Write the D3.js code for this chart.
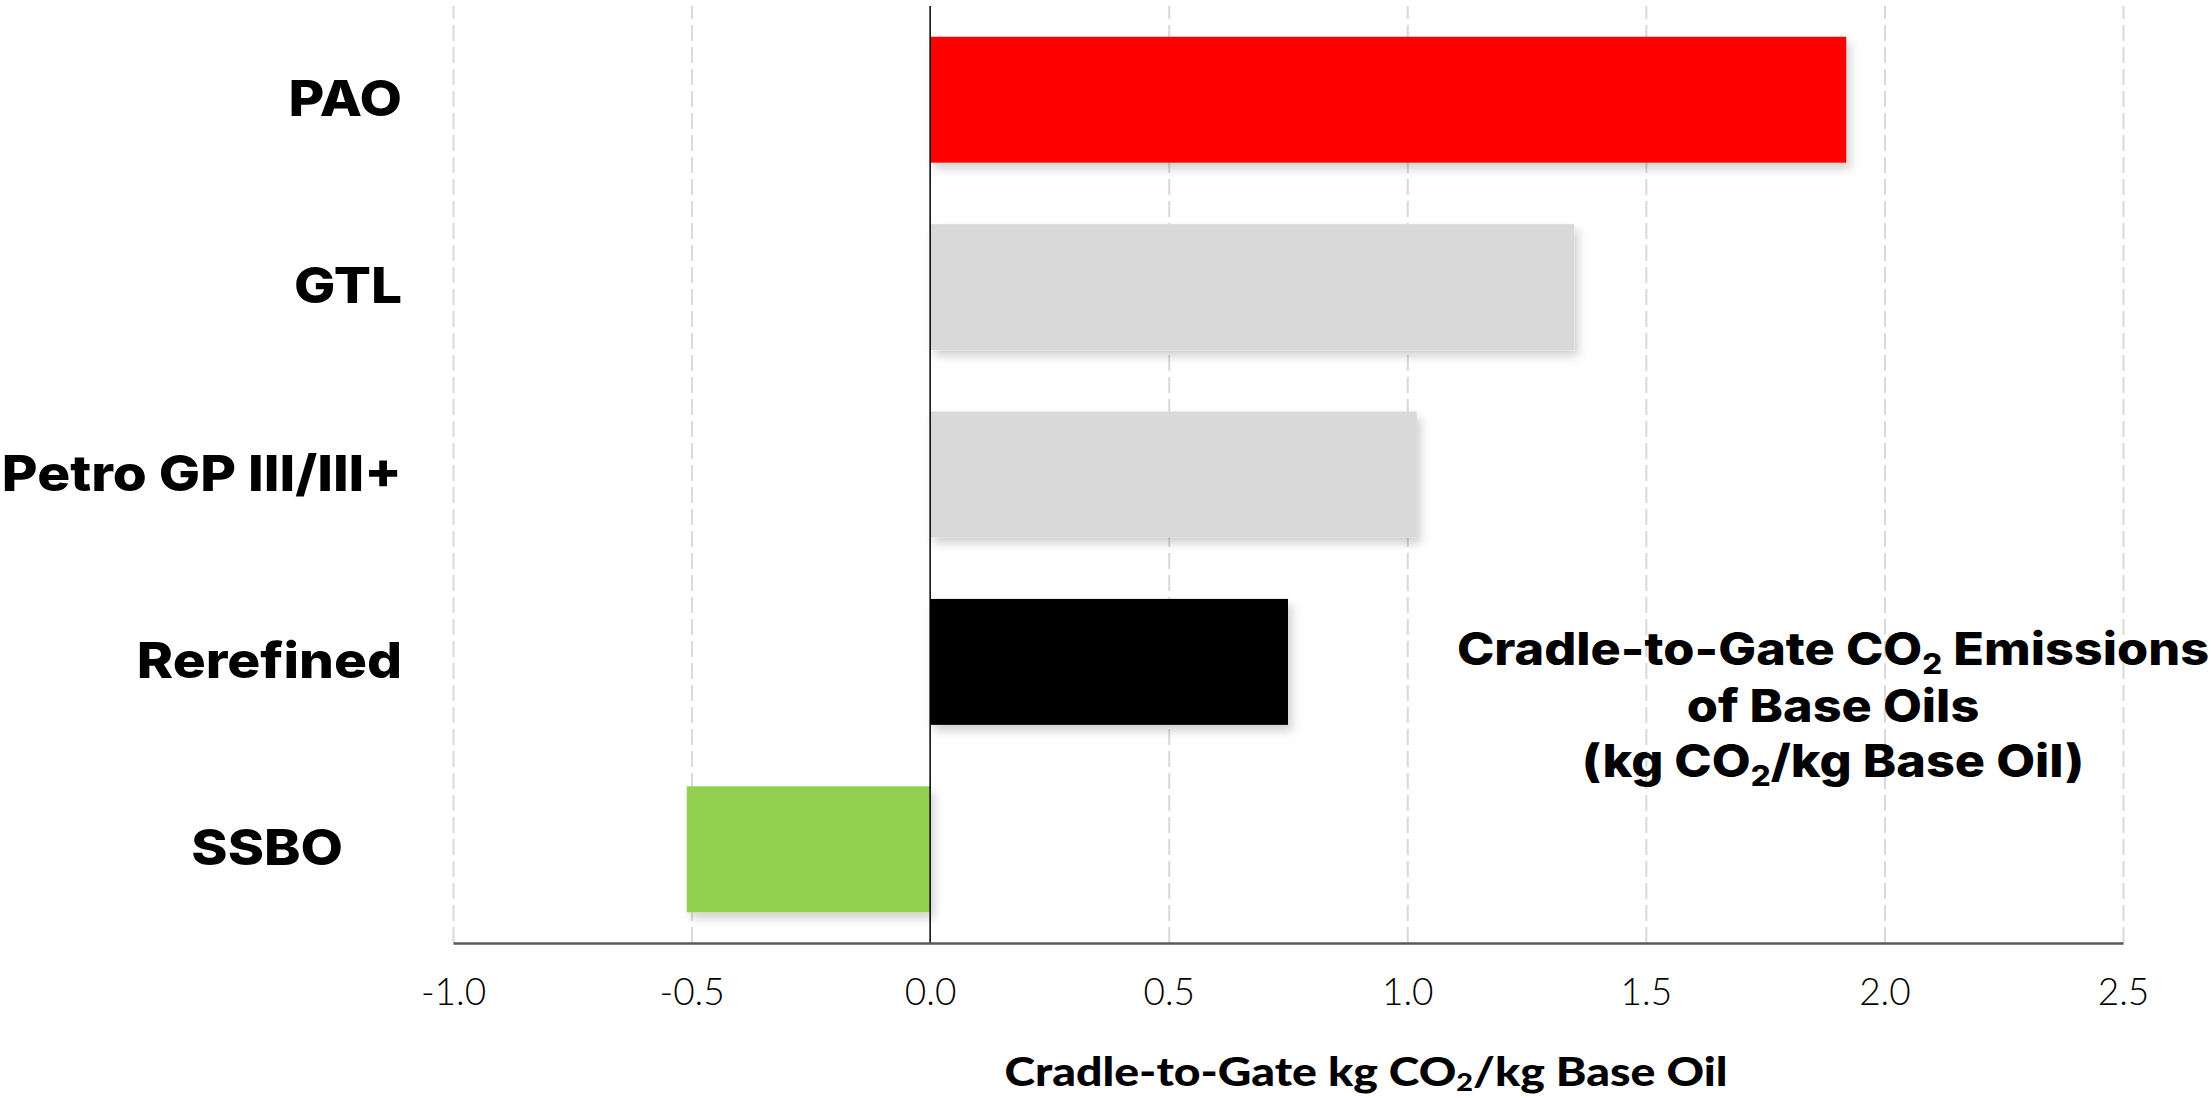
<!DOCTYPE html>
<html>
<head>
<meta charset="utf-8">
<script src="https://cdn.jsdelivr.net/npm/d3@7/dist/d3.min.js"></script>
<style>
  html, body { margin: 0; padding: 0; background: #ffffff; }
  svg { display: block; }
</style>
</head>
<body>
<svg id="chart" width="2211" height="1098"></svg>
<script>
// ---- data ----
const categories = ["PAO", "GTL", "Petro GP III/III+", "Rerefined", "SSBO"];
const values = [1.92, 1.35, 1.02, 0.75, -0.51];
const barColors = ["#FF0000", "#D9D9D9", "#D9D9D9", "#000000", "#92D050"];
const tickValues = [-1.0, -0.5, 0.0, 0.5, 1.0, 1.5, 2.0, 2.5];
const xAxisTitle = ["Cradle-to-Gate kg CO", "2", "/kg Base Oil"];
const annotationLines = [
  ["Cradle-to-Gate CO", "2", " Emissions"],
  ["of Base Oils"],
  ["(kg CO", "2", "/kg Base Oil)"]
];

// ---- layout ----
const W = 2211, H = 1098;
const plot = { left: 453, right: 2123, top: 6, bottom: 943 };
const svg = d3.select("#chart");

const x = d3.scaleLinear().domain([-1, 2.5]).range([plot.left, plot.right]);
const y = d3.scaleBand().domain(categories).range([plot.top, plot.bottom])
  .paddingInner(0.328).paddingOuter(0.164);

const defs = svg.append("defs");
const f = defs.append("filter").attr("id", "shadow")
  .attr("x", "-10%").attr("y", "-10%").attr("width", "130%").attr("height", "140%");
f.append("feDropShadow").attr("dx", 4).attr("dy", 6).attr("stdDeviation", 5)
  .attr("flood-color", "#000").attr("flood-opacity", 0.18);

// gridlines (dashed) via axis
const grid = svg.append("g").attr("class", "grid")
  .attr("transform", `translate(0,${plot.bottom})`)
  .call(d3.axisBottom(x).tickValues(tickValues.filter(v => v !== 0))
    .tickSize(-(plot.bottom - plot.top)).tickFormat(""));
grid.select(".domain").remove();
grid.selectAll(".tick line")
  .attr("stroke", "#d9d9d9").attr("stroke-width", 2).attr("stroke-dasharray", "16,6");

// bars
const data = categories.map((c, i) => ({ c, v: values[i], color: barColors[i] }));
svg.append("g").selectAll("rect").data(data).join("rect")
  .attr("x", d => x(Math.min(0, d.v)))
  .attr("y", d => y(d.c))
  .attr("width", d => Math.abs(x(d.v) - x(0)))
  .attr("height", y.bandwidth())
  .attr("fill", d => d.color)
  .attr("filter", "url(#shadow)");

// zero line
svg.append("line")
  .attr("x1", x(0)).attr("x2", x(0)).attr("y1", plot.top).attr("y2", plot.bottom)
  .attr("stroke", "#000").attr("stroke-width", 1.5);

// bottom axis
const xAxis = svg.append("g").attr("transform", `translate(0,${plot.bottom})`)
  .call(d3.axisBottom(x).tickValues(tickValues).tickSize(0).tickPadding(0)
    .tickFormat(d3.format(".1f")));
xAxis.select(".domain").attr("stroke", "#595959").attr("stroke-width", 2.5);
xAxis.selectAll(".tick text")
  .attr("y", 62).attr("dy", 0)
  .attr("font-family", "Lato, 'Noto Sans', sans-serif")
  .attr("font-weight", 300)
  .attr("font-size", 37)
  .attr("fill", "#000")
  .text(d => d3.format(".1f")(d).replace("−", "-"));

// category labels (horizontally widened to mimic a wide geometric face)
svg.append("g").selectAll("text").data(data).join("text")
  .attr("transform", d => `translate(${d.v < 0 ? 343 : 402},${y(d.c) + y.bandwidth() / 2 + 16}) scale(1.1,1)`)
  .attr("text-anchor", "end")
  .attr("font-family", "Inter, 'Open Sans', sans-serif")
  .attr("font-weight", 800)
  .attr("font-size", 50)
  .attr("fill", "#000")
  .text(d => d.c);

// helper for text with subscript
function richText(sel, parts, drop) {
  parts.forEach((p, i) => {
    const isSub = parts.length === 3 && i === 1;
    const t = sel.append("tspan").text(p);
    if (isSub) t.attr("font-size", "0.62em").attr("dy", drop + "em");
    else if (i === 2) t.attr("dy", (-drop * 0.62) + "em");
  });
}

// x axis title
const xt = svg.append("text")
  .attr("transform", "translate(1366,1086) scale(1.16,1)")
  .attr("text-anchor", "middle")
  .attr("font-family", "Lato, sans-serif")
  .attr("font-weight", 900)
  .attr("font-size", 40)
  .attr("fill", "#000");
richText(xt, xAxisTitle, 0.2);

// annotation
const baselines = [665, 722, 777];
annotationLines.forEach((parts, i) => {
  const t = svg.append("text")
    .attr("transform", `translate(1833,${baselines[i]}) scale(1.12,1)`)
    .attr("text-anchor", "middle")
    .attr("font-family", "Inter, 'Open Sans', sans-serif")
    .attr("font-weight", 800)
    .attr("font-size", 45)
    .attr("fill", "#000");
  richText(t, parts, 0.32);
});
</script>
</body>
</html>
